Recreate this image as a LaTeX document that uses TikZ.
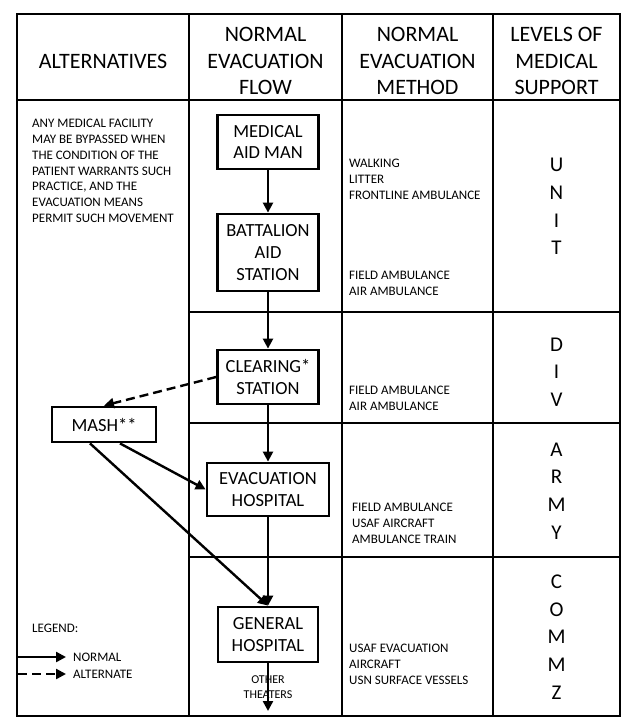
\documentclass[tikz,border=0pt]{standalone}
\usepackage{fontspec}
\setmainfont{Carlito}
\usetikzlibrary{arrows.meta}

\begin{document}
\begin{tikzpicture}[x=1pt,y=-1pt,
		rute/.style={line width=2.8pt},
		boks/.style={draw,line width=2.8pt,inner sep=0pt,align=center,font=\fontsize{18.5}{21.7}\selectfont},
		pil/.style={line width=2.4pt,-{Triangle[length=10pt,width=10pt]}},
		stiplet/.style={pil,dash pattern=on 9pt off 5pt},
		hode/.style={align=center,inner sep=0pt,font=\fontsize{22}{26.5}\selectfont},
		liten/.style={align=left,inner sep=0pt,anchor=north west,font=\fontsize{13}{15.8}\selectfont},
		niva/.style={align=center,inner sep=0pt,font=\fontsize{21}{27.6}\selectfont}]
		\useasboundingbox (0,0) rectangle (628,721);
		% Tabell
		\draw[rute] (17,14) rectangle (620,716);
		\draw[rute] (17,100) -- (620,100);
		\foreach \x in {189,342,493} \draw[rute] (\x,14) -- (\x,716);
		\foreach \y in {312,423,557} \draw[rute] (189,\y) -- (620,\y);
		% Overskrifter
		\node[hode] (alt) at (103,61) {ALTERNATIVES};
		\node[hode] (flyt) at (265.5,61) {NORMAL\\EVACUATION\\FLOW};
		\node[hode] (metode) at (417.5,61) {NORMAL\\EVACUATION\\METHOD};
		\node[hode] (nivaa) at (556.5,61) {LEVELS OF\\MEDICAL\\SUPPORT};
		% Alternativer
		\node[liten] (merknad) at (32,119) {ANY MEDICAL FACILITY\\MAY BE BYPASSED WHEN\\THE CONDITION OF THE\\PATIENT WARRANTS SUCH\\PRACTICE, AND THE\\EVACUATION MEANS\\PERMIT SUCH MOVEMENT};
		% Bokser
		\node[boks,minimum width=101pt,minimum height=54pt] (mam) at (268,142) {MEDICAL\\AID MAN};
		\node[boks,minimum width=101pt,minimum height=77pt] (bas) at (268,252.5) {BATTALION\\AID\\STATION};
		\node[boks,minimum width=101pt,minimum height=54pt] (cs) at (268,377) {CLEARING*\\STATION};
		\node[boks,minimum width=104pt,minimum height=35pt] (mash) at (104,424.5) {MASH**};
		\node[boks,minimum width=122pt,minimum height=53pt] (eh) at (268,489.5) {EVACUATION\\HOSPITAL};
		\node[boks,minimum width=100pt,minimum height=55pt] (gh) at (268,634.5) {GENERAL\\HOSPITAL};
		% Normal flyt
		\draw[pil] (mam) -- (bas);
		\draw[pil] (bas) -- (cs);
		\draw[pil] (cs) -- (eh);
		\draw[pil] (eh) -- (gh);
		\node[align=center,inner sep=0pt,font=\fontsize{12}{15}\selectfont] (andre) at (268,687.5) {OTHER\\THEATERS};
		\coordinate (ut) at (268,711);
		\draw[pil] (gh) -- (ut);
		% Alternativ flyt
		\draw[stiplet] (cs.west) -- (mash.north);
		\draw[pil] ([xshift=16pt]mash.south) -- (eh.west);
		\draw[pil] ([xshift=-14pt]mash.south) -- (gh.north);
		% Metoder
		\node[liten] (m1) at (349,159) {WALKING\\LITTER\\FRONTLINE AMBULANCE};
		\node[liten] (m2) at (349,271) {FIELD AMBULANCE\\AIR AMBULANCE};
		\node[liten] (m3) at (349,386) {FIELD AMBULANCE\\AIR AMBULANCE};
		\node[liten] (m4) at (352,503) {FIELD AMBULANCE\\USAF AIRCRAFT\\AMBULANCE TRAIN};
		\node[liten] (m5) at (349,644) {USAF EVACUATION\\AIRCRAFT\\USN SURFACE VESSELS};
		% Nivaer
		\node[niva] (unit) at (556.5,206.5) {U\\N\\I\\T};
		\node[niva] (div) at (556.5,372) {D\\I\\V};
		\node[niva] (army) at (556.5,491) {A\\R\\M\\Y};
		\node[niva] (commz) at (556.5,637) {C\\O\\M\\M\\Z};
		% Tegnforklaring
		\node[liten] (legend) at (32,624) {LEGEND:};
		\coordinate (n0) at (18,657);
		\coordinate (n1) at (66,657);
		\coordinate (a0) at (18,674);
		\coordinate (a1) at (66,674);
		\draw[pil] (n0) -- (n1);
		\draw[stiplet] (a0) -- (a1);
		\node[liten,anchor=west] (normal) at (73,657) {NORMAL};
		\node[liten,anchor=west] (alternate) at (73,674) {ALTERNATE};
	\end{tikzpicture}
\end{document}
